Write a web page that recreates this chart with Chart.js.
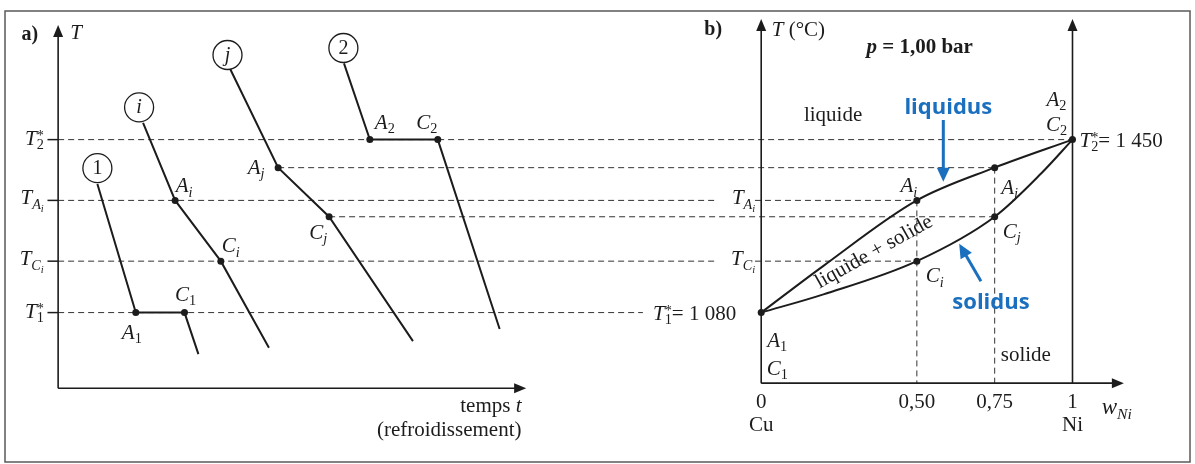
<!DOCTYPE html>
<html><head><meta charset="utf-8">
<script src="https://cdn.jsdelivr.net/npm/chart.js@4/dist/chart.umd.min.js"></script>
<style>html,body{margin:0;padding:0;background:#fff;}#wrap{width:1195px;height:464px;position:relative}</style>
</head><body><div id="wrap"><canvas id="c" width="1195" height="464"></canvas></div>
<script>
// ---------- DATA ----------
// pure melting temperatures (°C): T1* (Cu), T2* (Ni)
const T_FUSION = [1080, 1450];
// mixture i (w = 0,50): T_Ai (liquidus), T_Ci (solidus)
const T_MIX_I = [1320, 1190];
// mixture j (w = 0,75): T_Aj (liquidus), T_Cj (solidus)
const T_MIX_J = [1390, 1285];
const W_TICKS = [0, 0.5, 0.75, 1];
const W_TICK_LABELS = ['0', '0,50', '0,75', '1'];
const W_END_LABELS = ['Cu', 'Ni'];
// liquidus / solidus curves (w_Ni, T °C)
const LIQ_W = [0, 0.2, 0.5, 0.75, 1];
const LIQ_T = [1080, 1180, 1320, 1390, 1450];
const SOL_W = [0, 0.2, 0.5, 0.75, 0.9, 1];
const SOL_T = [1080, 1119, 1190, 1285, 1378, 1450];
// cooling curves (time t arbitrary units, T °C)
const COOL1_t = [8.47, 16.76, 27.27, 30.27];
const COOL1_T = [1355, 1080, 1080, 991];
const COOLI_t = [18.33, 25.25, 35.11, 45.49];
const COOLI_T = [1486, 1320, 1190, 1005];
const COOLJ_t = [37.13, 47.48, 58.48, 76.57];
const COOLJ_T = [1601, 1390, 1285, 1019];
const COOL2_t = [61.69, 67.27, 81.93, 95.28];
const COOL2_T = [1613, 1450, 1450, 1045];
const CURVE_NAMES = ['1', 'i', 'j', '2'];

// ---------- LAYOUT (pixels of the page, not data) ----------
const L = {W:1195, H:464, yT1:314, degPerPx:370/176, xa0:54.5, xa100:521, xb0:762.3, xb1:1075.7};
const tPerPx = 100/(L.xa100-L.xa0);
const wPerPx = 1/(L.xb1-L.xb0);

const pts = (xs, ys) => xs.map((x,i)=>({x, y:ys[i]}));
const INK = '#1c1c1c';
const BLUE = '#1a6fbf';
const SERIF = '"Liberation Serif","Times New Roman",serif';
const SANS = '"Open Sans","Noto Sans",sans-serif';

function coolDs(t, T){
  return {data: pts(t,T), xAxisID:'xt', yAxisID:'y', borderColor:INK, borderWidth:2,
    pointRadius:[0,3.5,3.5,0], pointBackgroundColor:INK, pointBorderWidth:0, tension:0, fill:false};
}

// rich text: parts {t, i, b, lv(0,1 sub,2 subsub,-1 sup), ss:{sup,sub}}
function rich(ctx, x, cy, parts, align, size, fam){
  fam = fam || SERIF;
  const base = cy + size*0.33;
  const scale = lv => lv===0||lv===undefined ? 1 : (Math.abs(lv)===2 ? 0.5 : 0.68);
  const fontOf = (p, s) => `${p.i?'italic ':''}${p.b?'bold ':''}${s}px ${p.fam||fam}`;
  let w = 0; const items = [];
  for (const p of parts){
    if (p.ss){
      const s = size*0.68; ctx.font = fontOf(p, s);
      const ww = Math.max(ctx.measureText(p.ss.sup).width, ctx.measureText(p.ss.sub).width);
      items.push({p, s, w:ww}); w += ww;
    } else {
      const s = size*scale(p.lv); ctx.font = fontOf(p, s);
      const ww = ctx.measureText(p.t).width; items.push({p, s, w:ww}); w += ww;
    }
  }
  let cx = align==='center' ? x-w/2 : align==='right' ? x-w : x;
  ctx.textAlign='left'; ctx.textBaseline='alphabetic';
  for (const it of items){
    const p = it.p; ctx.font = fontOf(p, it.s);
    if (p.ss){
      ctx.fillText(p.ss.sup, cx, base - size*0.22);
      ctx.fillText(p.ss.sub, cx, base + size*0.22);
    } else {
      let dy = 0;
      if (p.lv===1) dy = size*0.22; else if (p.lv===2) dy = size*0.38; else if (p.lv===-1) dy = -size*0.35;
      ctx.fillText(p.t, cx, base+dy);
    }
    cx += it.w;
  }
  return w;
}
const Tstar = n => [{t:'T', i:true}, {ss:{sup:'*', sub:n}}];
const Tsub = (a, b) => [{t:'T', i:true}, {t:a, i:true, lv:1}, {t:b, i:true, lv:2}];
const Pt = (a, b) => [{t:a, i:true}, {t:b, i:true, lv:1}];
const PtN = (a, b) => [{t:a, i:true}, {t:b, lv:1}];

function arrowHead(ctx, x0, y0, x1, y1, len, half){
  const a = Math.atan2(y1-y0, x1-x0);
  ctx.beginPath();
  ctx.moveTo(x1, y1);
  ctx.lineTo(x1 - len*Math.cos(a) + half*Math.sin(a), y1 - len*Math.sin(a) - half*Math.cos(a));
  ctx.lineTo(x1 - len*Math.cos(a) - half*Math.sin(a), y1 - len*Math.sin(a) + half*Math.cos(a));
  ctx.closePath(); ctx.fill();
}
function arrow(ctx, x0, y0, x1, y1, lw, len, half){
  const a = Math.atan2(y1-y0, x1-x0);
  ctx.lineWidth = lw;
  ctx.beginPath(); ctx.moveTo(x0,y0); ctx.lineTo(x1 - (len-1)*Math.cos(a), y1 - (len-1)*Math.sin(a)); ctx.stroke();
  arrowHead(ctx, x0, y0, x1, y1, len, half);
}

const AXIS_A = {bottom:918, top:1695, tEnd:101};
const AXIS_B = {bottom:929, top:1708, wEnd:1.165};

const diagram = {
  id:'diagram',
  beforeDatasetsDraw(chart){
    const ctx = chart.ctx, s = chart.scales;
    const XT = v => s.xt.getPixelForValue(v), XW = v => s.xw.getPixelForValue(v), Y = v => s.y.getPixelForValue(v);
    ctx.save();
    // frame
    ctx.strokeStyle = '#5a5a5a'; ctx.lineWidth = 1.5;
    ctx.strokeRect(5, 11, chart.width-10, chart.height-13);
    // dashed guides
    ctx.strokeStyle = '#333'; ctx.lineWidth = 1; ctx.setLineDash([6,4]);
    const h = (x0, x1, T) => { ctx.beginPath(); ctx.moveTo(x0, Y(T)); ctx.lineTo(x1, Y(T)); ctx.stroke(); };
    const v = (x, T0, T1) => { ctx.beginPath(); ctx.moveTo(x, Y(T0)); ctx.lineTo(x, Y(T1)); ctx.stroke(); };
    h(XT(0), XW(1), T_FUSION[1]);
    h(XT(COOLJ_t[1]), XW(0.75), T_MIX_J[0]);
    h(XT(0), XW(-0.145), T_MIX_I[0]); h(XW(-0.02), XW(0.5), T_MIX_I[0]);
    h(XT(COOLJ_t[2]), XW(0.75), T_MIX_J[1]);
    h(XT(0), XW(-0.145), T_MIX_I[1]); h(XW(-0.02), XW(0.5), T_MIX_I[1]);
    h(XT(0), XW(-0.38), T_FUSION[0]);
    v(XW(0.5), T_MIX_I[0], AXIS_B.bottom);
    v(XW(0.75), T_MIX_J[0], AXIS_B.bottom);
    ctx.setLineDash([]);
    // axes
    ctx.strokeStyle = INK; ctx.fillStyle = INK;
    arrow(ctx, XT(0), Y(AXIS_A.bottom), XT(0), Y(AXIS_A.top), 1.6, 12, 5);
    arrow(ctx, XT(0), Y(AXIS_A.bottom), XT(AXIS_A.tEnd), Y(AXIS_A.bottom), 1.6, 12, 5);
    arrow(ctx, XW(0), Y(AXIS_B.bottom), XW(0), Y(AXIS_B.top), 1.6, 12, 5);
    arrow(ctx, XW(1), Y(AXIS_B.bottom), XW(1), Y(AXIS_B.top), 1.6, 12, 5);
    arrow(ctx, XW(0), Y(AXIS_B.bottom), XW(AXIS_B.wEnd), Y(AXIS_B.bottom), 1.6, 12, 5);
    // ticks on panel a T axis
    ctx.lineWidth = 1.5;
    [T_FUSION[1], T_MIX_I[0], T_MIX_I[1], T_FUSION[0]].forEach(T => {
      ctx.beginPath(); ctx.moveTo(XT(-2.3), Y(T)); ctx.lineTo(XT(0), Y(T)); ctx.stroke();
    });
    ctx.restore();
  },
  afterDatasetsDraw(chart){
    const ctx = chart.ctx, s = chart.scales;
    const XT = v => s.xt.getPixelForValue(v), XW = v => s.xw.getPixelForValue(v), Y = v => s.y.getPixelForValue(v);
    ctx.save();
    ctx.fillStyle = INK; ctx.strokeStyle = INK;
    const F = 21;
    // panel a titles
    rich(ctx, XT(-6.1), Y(1677), [{t:'a)', b:true}], 'center', 20);
    rich(ctx, XT(2.6), Y(1680), [{t:'T', i:true}], 'left', 21);
    // panel a tick labels
    rich(ctx, XT(-3.1), Y(T_FUSION[1])-2, Tstar('2'), 'right', F);
    rich(ctx, XT(-3.1), Y(T_MIX_I[0])-3, Tsub('A','i'), 'right', F);
    rich(ctx, XT(-3.1), Y(T_MIX_I[1])-3, Tsub('C','i'), 'right', F);
    rich(ctx, XT(-3.1), Y(T_FUSION[0])-2, Tstar('1'), 'right', F);
    // axis title
    rich(ctx, XT(100), Y(882), [{t:'temps '}, {t:'t', i:true}], 'right', 21);
    rich(ctx, XT(100), Y(830), [{t:'(refroidissement)'}], 'right', 21);
    // point labels on cooling curves
    const at = (ds, k, dx, dy, parts) => rich(ctx, XT(ds[0][k])+dx, Y(ds[1][k])+dy, parts, 'center', F);
    at([COOL1_t, COOL1_T], 1, -4, 19, PtN('A','1'));
    at([COOL1_t, COOL1_T], 2, 1, -19, PtN('C','1'));
    at([COOLI_t, COOLI_T], 1, 9, -15, Pt('A','i'));
    at([COOLI_t, COOLI_T], 2, 10, -16, Pt('C','i'));
    at([COOLJ_t, COOLJ_T], 1, -22, -1, Pt('A','j'));
    at([COOLJ_t, COOLJ_T], 2, -11, 15, Pt('C','j'));
    at([COOL2_t, COOL2_T], 1, 15, -18, PtN('A','2'));
    at([COOL2_t, COOL2_T], 2, -11, -18, PtN('C','2'));
    // circled curve names
    const circ = [[8.47,1389],[17.47,1519],[36.55,1631],[61.56,1646]];
    ctx.lineWidth = 1.3;
    circ.forEach((c, k) => {
      const x = XT(c[0]), y = Y(c[1]);
      ctx.beginPath(); ctx.arc(x, y, 14.5, 0, Math.PI*2); ctx.stroke();
      const it = CURVE_NAMES[k]==='i' || CURVE_NAMES[k]==='j';
      rich(ctx, x, y-0.5, [{t:CURVE_NAMES[k], i:it}], 'center', 20);
    });
    // panel b titles
    rich(ctx, XW(-0.154), Y(1688), [{t:'b)', b:true}], 'center', 20);
    rich(ctx, XW(0.034), Y(1686), [{t:'T', i:true}, {t:' (°C)'}], 'left', 21);
    rich(ctx, XW(0.509), Y(1651), [{t:'p', i:true, b:true}, {t:' = 1,00 bar', b:true}], 'center', 21);
    rich(ctx, XW(0.231), Y(1505), [{t:'liquide'}], 'center', 21);
    rich(ctx, XW(0.85), Y(992), [{t:'solide'}], 'center', 21);
    // left labels in panel b
    rich(ctx, XW(0)-6, Y(T_MIX_I[0])-3, Tsub('A','i'), 'right', F);
    rich(ctx, XW(0)-6, Y(T_MIX_I[1])-3, Tsub('C','i'), 'right', F);
    rich(ctx, XW(0)-25, Y(T_FUSION[0]), [{t:'T', i:true}, {ss:{sup:'*', sub:'1'}}, {t:'= 1 080'}], 'right', F);
    rich(ctx, XW(1)+7, Y(T_FUSION[1]), [{t:'T', i:true}, {ss:{sup:'*', sub:'2'}}, {t:'= 1 450'}], 'left', F);
    // point labels panel b
    const bt = (w, T, dx, dy, parts) => rich(ctx, XW(w)+dx, Y(T)+dy, parts, 'center', F);
    bt(0, T_FUSION[0], 16, 27, PtN('A','1'));
    bt(0, T_FUSION[0], 16, 55, PtN('C','1'));
    bt(1, T_FUSION[1], -16, -41, PtN('A','2'));
    bt(1, T_FUSION[1], -16, -16, PtN('C','2'));
    bt(0.5, T_MIX_I[0], -8, -15, Pt('A','i'));
    bt(0.75, T_MIX_J[0], 15, 19, Pt('A','j'));
    bt(0.75, T_MIX_J[1], 17, 14, Pt('C','j'));
    bt(0.5, T_MIX_I[1], 18, 14, Pt('C','i'));
    // rotated region label
    ctx.save();
    ctx.translate(XW(0.36), Y(1212));
    ctx.rotate(-29*Math.PI/180);
    rich(ctx, 0, 0, [{t:'liquide + solide'}], 'center', 21);
    ctx.restore();
    // ticks of w axis
    W_TICKS.forEach((w, k) => rich(ctx, XW(w), Y(891), [{t:W_TICK_LABELS[k]}], 'center', 21));
    rich(ctx, XW(0), Y(842), [{t:W_END_LABELS[0]}], 'center', 21);
    rich(ctx, XW(1), Y(842), [{t:W_END_LABELS[1]}], 'center', 21);
    rich(ctx, XW(1.094), Y(879), [{t:'w', i:true}, {t:'Ni', i:true, lv:1}], 'left', 23);
    // blue annotations
    ctx.fillStyle = BLUE; ctx.strokeStyle = BLUE;
    arrow(ctx, XW(0.585), Y(1492), XW(0.585), Y(1360), 3, 14, 6.5);
    rich(ctx, XW(0.585)+5, Y(1521), [{t:'liquidus', b:true}], 'center', 22, SANS);
    arrow(ctx, XW(0.706), Y(1147), XW(0.636), Y(1227), 3, 14, 6.5);
    rich(ctx, XW(0.706)+10, Y(1147)+20, [{t:'solidus', b:true}], 'center', 22, SANS);
    ctx.restore();
  }
};

new Chart(document.getElementById('c'), {
  type:'line',
  data:{datasets:[
    coolDs(COOL1_t, COOL1_T),
    coolDs(COOLI_t, COOLI_T),
    coolDs(COOLJ_t, COOLJ_T),
    coolDs(COOL2_t, COOL2_T),
    {data: pts(LIQ_W, LIQ_T), xAxisID:'xw', yAxisID:'y', borderColor:INK, borderWidth:2, pointRadius:0, cubicInterpolationMode:'monotone', fill:false},
    {data: pts(SOL_W, SOL_T), xAxisID:'xw', yAxisID:'y', borderColor:INK, borderWidth:2, pointRadius:0, cubicInterpolationMode:'monotone', fill:false},
    {data: pts([0, 0.5, 0.5, 0.75, 0.75, 1], [T_FUSION[0], T_MIX_I[0], T_MIX_I[1], T_MIX_J[0], T_MIX_J[1], T_FUSION[1]]),
     xAxisID:'xw', yAxisID:'y', showLine:false, pointRadius:3.5, pointBackgroundColor:INK, pointBorderWidth:0}
  ]},
  options:{
    responsive:false, animation:false, devicePixelRatio:1, events:[],
    layout:{padding:0},
    plugins:{legend:{display:false}, tooltip:{enabled:false}},
    scales:{
      xt:{type:'linear', display:false, min:-L.xa0*tPerPx, max:(L.W-L.xa0)*tPerPx},
      xw:{type:'linear', display:false, min:-L.xb0*wPerPx, max:(L.W-L.xb0)*wPerPx},
      y:{type:'linear', display:false, min:1080-(L.H-L.yT1)*L.degPerPx, max:1080+L.yT1*L.degPerPx}
    }
  },
  plugins:[diagram]
});
</script></body></html>
